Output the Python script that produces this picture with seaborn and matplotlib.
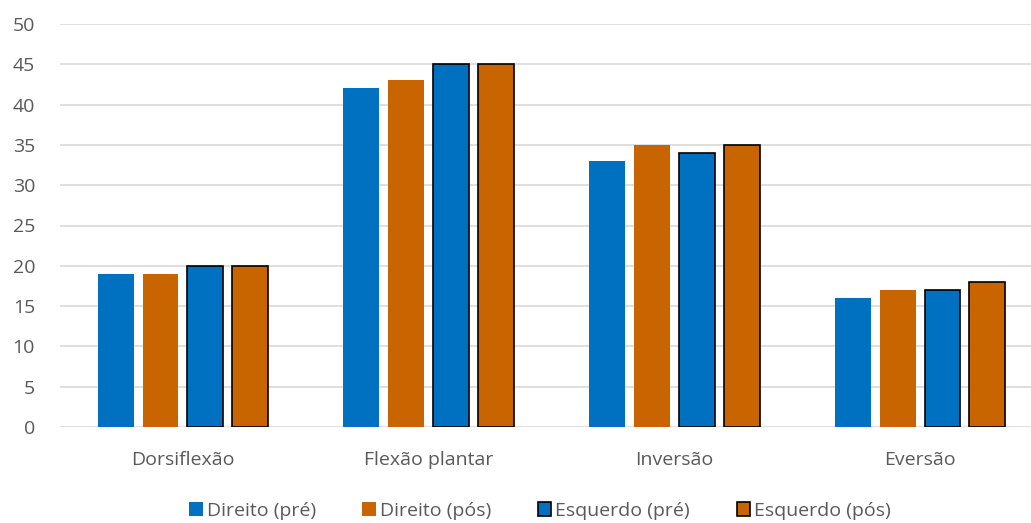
import matplotlib
matplotlib.use("Agg")
import matplotlib.pyplot as plt
import seaborn as sns
import pandas as pd

# data
categorias = ["Dorsiflexão", "Flexão plantar", "Inversão", "Eversão"]
series = ["Direito (pré)", "Direito (pós)", "Esquerdo (pré)", "Esquerdo (pós)"]
direito_pre = [19, 42, 33, 16]
direito_pos = [19, 43, 35, 17]
esquerdo_pre = [20, 45, 34, 17]
esquerdo_pos = [20, 45, 35, 18]
cores = ["#0070C0", "#C96500", "#0070C0", "#C96500"]

rows = []
for nome, vals in zip(series, [direito_pre, direito_pos, esquerdo_pre, esquerdo_pos]):
    for cat, v in zip(categorias, vals):
        rows.append({"cat": cat, "serie": nome, "valor": v})
df = pd.DataFrame(rows)

sns.set_style("white")
plt.rcParams["font.family"] = ["Open Sans", "DejaVu Sans"]

fig = plt.figure(figsize=(10.31, 5.23), dpi=100)
ax = fig.add_axes([60 / 1031, 96 / 523, 983 / 1031, 403 / 523])

sns.barplot(data=df, x="cat", y="valor", hue="serie", hue_order=series,
            order=categorias, palette=cores, width=0.73, gap=0.2,
            legend=False, ax=ax, saturation=1)

# the "Esquerdo" series have a black outline
for i, cont in enumerate(ax.containers):
    for p in cont.patches:
        if i >= 2:
            p.set_edgecolor("black")
            p.set_linewidth(1.2)
        else:
            p.set_edgecolor("none")

ax.set_ylim(0, 50)
ax.set_xlim(-0.5, 3.5)
ax.set_yticks(range(0, 51, 5))
ax.yaxis.grid(True, color="#d9d9d9", linewidth=1.2)
ax.set_axisbelow(True)
for s in ax.spines.values():
    s.set_visible(False)
ax.tick_params(axis="both", length=0, colors="#595959", labelsize=14)
ax.tick_params(axis="x", pad=17)
ax.tick_params(axis="y", pad=18)
ax.set_xlabel("")
ax.set_ylabel("")

handles = [c.patches[0] for c in ax.containers]
fig.legend(handles, series, loc="center", bbox_to_anchor=(540 / 1031, 1 - 511 / 523),
           ncol=4, frameon=False, fontsize=14, handlelength=0.7, handleheight=0.7,
           handletextpad=0.2, columnspacing=2.4, labelcolor="#595959")

fig.savefig("out.png", dpi=100)
